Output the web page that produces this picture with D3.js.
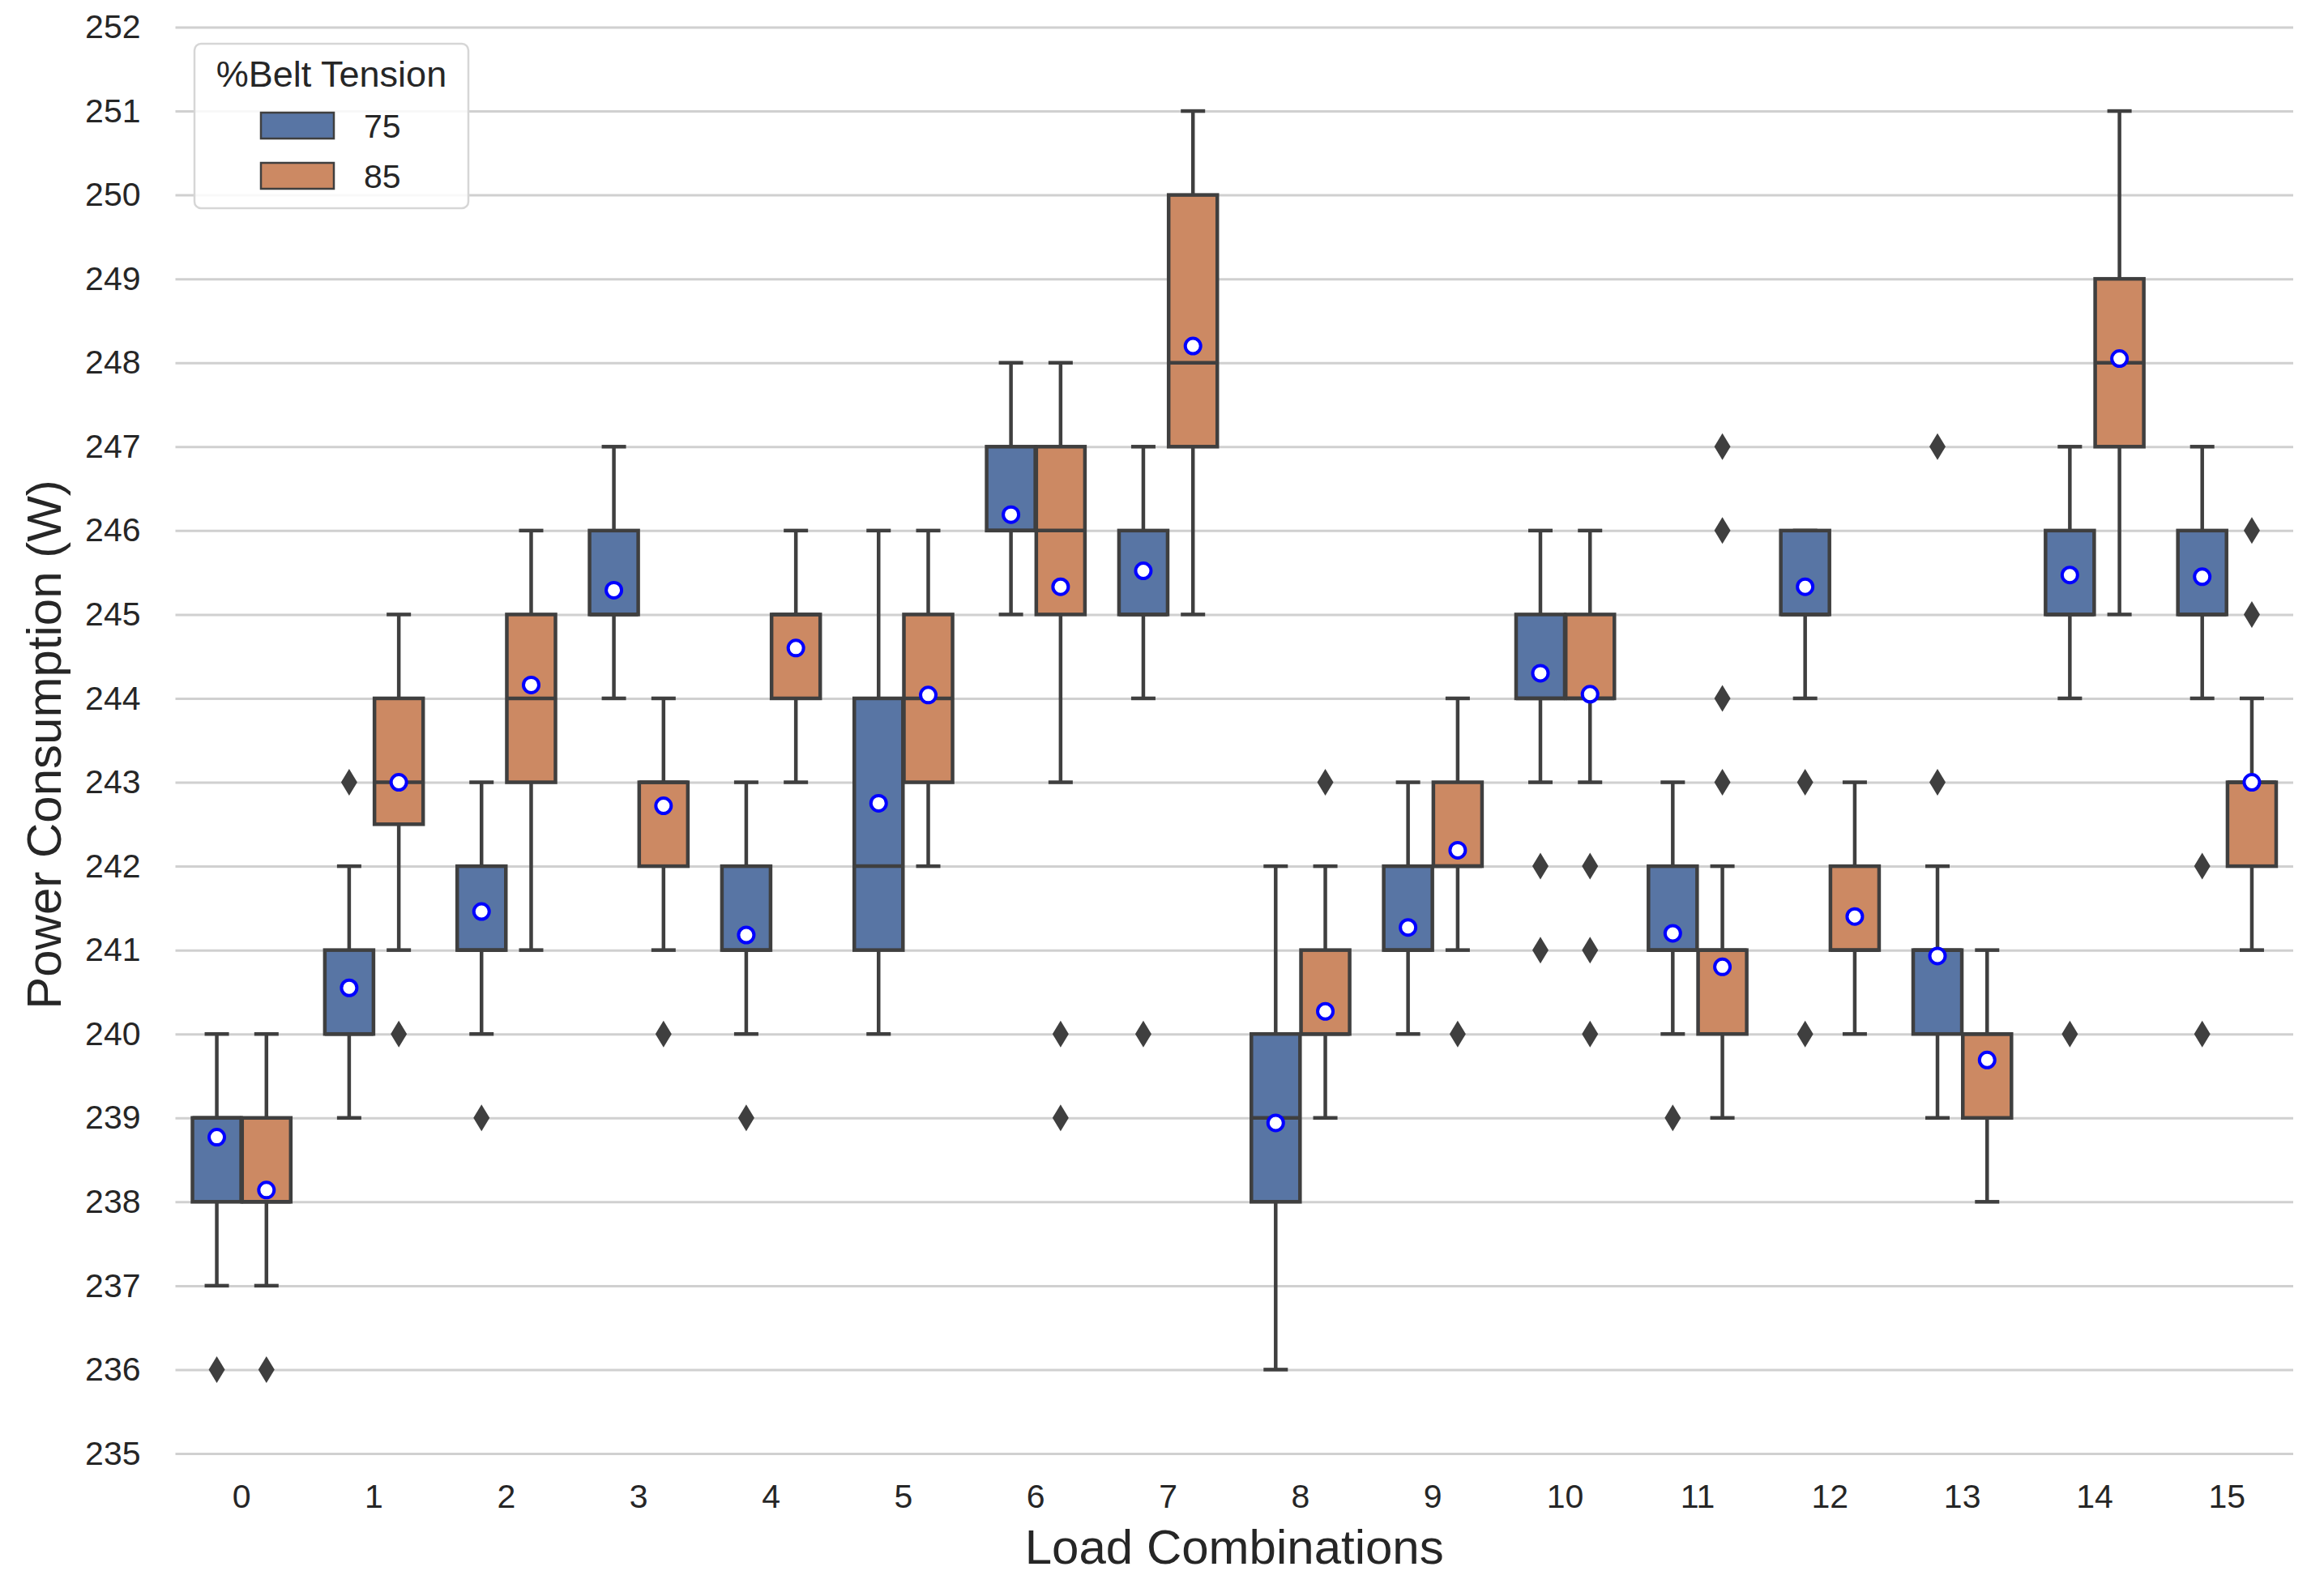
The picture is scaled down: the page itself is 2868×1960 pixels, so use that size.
<!DOCTYPE html>
<html>
<head>
<meta charset="utf-8">
<script src="https://cdn.jsdelivr.net/npm/d3@7/dist/d3.min.js"></script>
<style>
  html, body { margin: 0; padding: 0; background: #ffffff; }
  svg { display: block; font-family: "Liberation Sans", Arial, Helvetica, sans-serif; }
</style>
</head>
<body>
<svg id="chart" width="2868" height="1960"></svg>
<script>
// ---------------- DATA ----------------
const categories = ["0","1","2","3","4","5","6","7","8","9","10","11","12","13","14","15"];
const tensions = ["75", "85"];
const yTicks = [235,236,237,238,239,240,241,242,243,244,245,246,247,248,249,250,251,252];

// 75 % belt tension
const lo75   = [237,239,240,244,240,240,245,244,236,240,243,240,244,239,244,244];
const q1_75  = [238,240,241,245,241,241,246,245,238,241,244,241,245,240,245,245];
const med75  = [239,240,241,245,241,242,246,245,239,241,244,241,245,241,245,245];
const q3_75  = [239,241,242,246,242,244,247,246,240,242,245,242,246,241,246,246];
const hi75   = [240,242,243,247,243,246,248,247,242,243,246,243,246,242,247,247];
const mean75 = [238.77,240.55,241.46,245.29,241.18,242.75,246.19,245.52,238.94,241.27,244.30,241.20,245.33,240.93,245.47,245.45];
const out75  = [[236],[243],[239],[],[239],[],[],[240],[],[],[242,241],[239],[243,240],[247,243],[240],[242,240]];

// 85 % belt tension
const lo85   = [237,241,241,241,243,242,243,245,239,241,243,239,240,238,245,241];
const q1_85  = [238,242.5,243,242,244,243,245,247,240,242,244,240,241,239,247,242];
const med85  = [238,243,244,243,245,244,246,248,240,242,244,241,241,240,248,243];
const q3_85  = [239,244,245,243,245,245,247,250,241,243,245,241,242,240,249,243];
const hi85   = [240,245,246,244,246,246,248,251,242,244,246,242,243,241,251,244];
const mean85 = [238.14,243.00,244.16,242.72,244.60,244.04,245.33,248.20,240.27,242.19,244.05,240.80,241.40,239.69,248.05,243.00];
const out85  = [[236],[240],[],[240],[],[],[240,239],[],[243],[240],[242,241,240],[247,246,244,243],[],[],[],[246,245]];

const seriesColors = {"75": "#5875a4", "85": "#cc8963"};

// build table
const boxes = [];
categories.forEach((c, i) => {
  boxes.push({cat: c, t: "75", lo: lo75[i], q1: q1_75[i], med: med75[i], q3: q3_75[i], hi: hi75[i], mean: mean75[i], out: out75[i]});
  boxes.push({cat: c, t: "85", lo: lo85[i], q1: q1_85[i], med: med85[i], q3: q3_85[i], hi: hi85[i], mean: mean85[i], out: out85[i]});
});

(function draw() {
  const svg = d3.select("#chart");
  const pLeft = 216.5, pRight = 2830, pTop = 33.5, pBottom = 1794;
  const lineCol = "#3f3f3f";
  const textCol = "#262626";
  const lw = 4.5;

  const x = d3.scaleBand().domain(categories).range([pLeft, pRight]).paddingInner(0).paddingOuter(0);
  const xSub = d3.scaleBand().domain(tensions).range([x.bandwidth() * 0.125, x.bandwidth() * 0.875]).padding(0);
  const y = d3.scaleLinear().domain([235, 252]).range([pBottom, pTop]);

  // grid + y axis
  const yAxis = d3.axisLeft(y).tickValues(yTicks).tickSize(-(pRight - pLeft)).tickPadding(43).tickFormat(d3.format("d"));
  const gy = svg.append("g").attr("transform", `translate(${pLeft},0)`).call(yAxis);
  gy.select(".domain").remove();
  gy.selectAll(".tick line").attr("stroke", "#d0d0d0").attr("stroke-width", 3);
  gy.selectAll(".tick text").attr("fill", textCol).style("font-size", "41px");

  // x axis
  const xAxis = d3.axisBottom(x).tickSize(0).tickPadding(38);
  const gx = svg.append("g").attr("transform", `translate(0,${pBottom})`).call(xAxis);
  gx.select(".domain").remove();
  gx.selectAll(".tick text").attr("fill", textCol).style("font-size", "41px");

  // axis titles
  svg.append("text").attr("x", (pLeft + pRight) / 2).attr("y", 1930)
    .attr("text-anchor", "middle").attr("fill", textCol).style("font-size", "60px")
    .text("Load Combinations");
  svg.append("text").attr("transform", `translate(75,919) rotate(-90)`)
    .attr("text-anchor", "middle").attr("fill", textCol).style("font-size", "60px")
    .text("Power Consumption (W)");

  // ---------------- BOXES ----------------
  const bw = xSub.bandwidth() * 0.98;
  const g = svg.append("g");
  const bg = g.selectAll("g.box").data(boxes).join("g").attr("class", "box")
    .attr("transform", d => `translate(${x(d.cat) + xSub(d.t) + xSub.bandwidth() / 2},0)`);

  bg.append("line").attr("x1", 0).attr("x2", 0).attr("y1", d => y(d.q3)).attr("y2", d => y(d.hi))
    .attr("stroke", lineCol).attr("stroke-width", lw);
  bg.append("line").attr("x1", 0).attr("x2", 0).attr("y1", d => y(d.q1)).attr("y2", d => y(d.lo))
    .attr("stroke", lineCol).attr("stroke-width", lw);
  bg.append("line").attr("x1", -bw / 4).attr("x2", bw / 4).attr("y1", d => y(d.hi)).attr("y2", d => y(d.hi))
    .attr("stroke", lineCol).attr("stroke-width", lw);
  bg.append("line").attr("x1", -bw / 4).attr("x2", bw / 4).attr("y1", d => y(d.lo)).attr("y2", d => y(d.lo))
    .attr("stroke", lineCol).attr("stroke-width", lw);
  bg.append("rect").attr("x", -bw / 2).attr("width", bw)
    .attr("y", d => y(d.q3)).attr("height", d => y(d.q1) - y(d.q3))
    .attr("fill", d => seriesColors[d.t]).attr("stroke", lineCol).attr("stroke-width", lw);
  bg.append("line").attr("x1", -bw / 2).attr("x2", bw / 2).attr("y1", d => y(d.med)).attr("y2", d => y(d.med))
    .attr("stroke", lineCol).attr("stroke-width", lw);
  bg.selectAll("path.out").data(d => d.out).join("path").attr("class", "out")
    .attr("d", v => { const cy = y(v); return `M0,${cy - 16.5}L10,${cy}L0,${cy + 16.5}L-10,${cy}Z`; })
    .attr("fill", lineCol);
  bg.append("circle").attr("cx", 0).attr("cy", d => y(d.mean)).attr("r", 9.5)
    .attr("fill", "#ffffff").attr("stroke", "#0000ff").attr("stroke-width", 4);

  // ---------------- LEGEND ----------------
  const lg = svg.append("g");
  lg.append("rect").attr("x", 240).attr("y", 54).attr("width", 338).attr("height", 203)
    .attr("rx", 8).attr("fill", "#ffffff").attr("fill-opacity", 0.85)
    .attr("stroke", "#d6d6d6").attr("stroke-width", 2.5);
  lg.append("text").attr("x", 409).attr("y", 107).attr("text-anchor", "middle")
    .attr("fill", textCol).style("font-size", "45px").text("%Belt Tension");
  const li = lg.selectAll("g.item").data(tensions).join("g").attr("class", "item")
    .attr("transform", (d, i) => `translate(0,${i * 62})`);
  li.append("rect").attr("x", 322).attr("y", 139).attr("width", 90).attr("height", 32)
    .attr("fill", d => seriesColors[d]).attr("stroke", lineCol).attr("stroke-width", 2.5);
  li.append("text").attr("x", 449).attr("y", 170).attr("fill", textCol)
    .style("font-size", "41px").text(d => d);
})();
</script>
</body>
</html>
